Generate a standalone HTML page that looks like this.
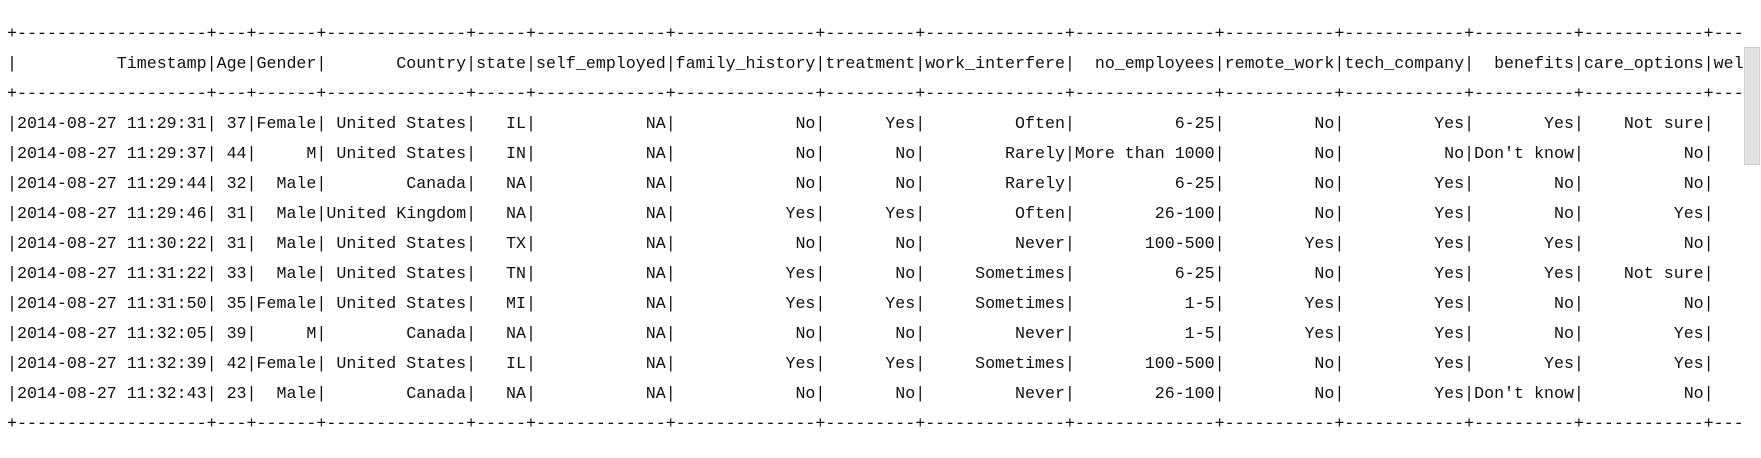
<!DOCTYPE html>
<html><head><meta charset="utf-8"><style>
html,body{margin:0;padding:0;background:#fff;width:1761px;height:458px;overflow:hidden}
.wrap{position:absolute;left:0;top:0;width:1744px;height:458px;overflow:hidden}
pre{margin:0;position:absolute;left:7px;top:20px;font-family:"Liberation Mono",monospace;font-size:16.67px;line-height:30px;color:#111;transform:scaleX(0.9985);transform-origin:0 0}
.sb{position:absolute;left:1744px;top:47px;width:16px;height:118px;background:#e2e2e2;border:1px solid #d0d0d0;box-sizing:border-box}
</style></head><body>
<div class="wrap"><pre>+-------------------+---+------+--------------+-----+-------------+--------------+---------+--------------+--------------+-----------+------------+----------+------------+------------------
|          Timestamp|Age|Gender|       Country|state|self_employed|family_history|treatment|work_interfere|  no_employees|remote_work|tech_company|  benefits|care_options|wellness_program|
+-------------------+---+------+--------------+-----+-------------+--------------+---------+--------------+--------------+-----------+------------+----------+------------+------------------
|2014-08-27 11:29:31| 37|Female| United States|   IL|           NA|            No|      Yes|         Often|          6-25|         No|         Yes|       Yes|    Not sure|
|2014-08-27 11:29:37| 44|     M| United States|   IN|           NA|            No|       No|        Rarely|More than 1000|         No|          No|Don't know|          No|
|2014-08-27 11:29:44| 32|  Male|        Canada|   NA|           NA|            No|       No|        Rarely|          6-25|         No|         Yes|        No|          No|
|2014-08-27 11:29:46| 31|  Male|United Kingdom|   NA|           NA|           Yes|      Yes|         Often|        26-100|         No|         Yes|        No|         Yes|
|2014-08-27 11:30:22| 31|  Male| United States|   TX|           NA|            No|       No|         Never|       100-500|        Yes|         Yes|       Yes|          No|
|2014-08-27 11:31:22| 33|  Male| United States|   TN|           NA|           Yes|       No|     Sometimes|          6-25|         No|         Yes|       Yes|    Not sure|
|2014-08-27 11:31:50| 35|Female| United States|   MI|           NA|           Yes|      Yes|     Sometimes|           1-5|        Yes|         Yes|        No|          No|
|2014-08-27 11:32:05| 39|     M|        Canada|   NA|           NA|            No|       No|         Never|           1-5|        Yes|         Yes|        No|         Yes|
|2014-08-27 11:32:39| 42|Female| United States|   IL|           NA|           Yes|      Yes|     Sometimes|       100-500|         No|         Yes|       Yes|         Yes|
|2014-08-27 11:32:43| 23|  Male|        Canada|   NA|           NA|            No|       No|         Never|        26-100|         No|         Yes|Don't know|          No|
+-------------------+---+------+--------------+-----+-------------+--------------+---------+--------------+--------------+-----------+------------+----------+------------+------------------</pre></div>
<div class="sb"></div>
</body></html>
